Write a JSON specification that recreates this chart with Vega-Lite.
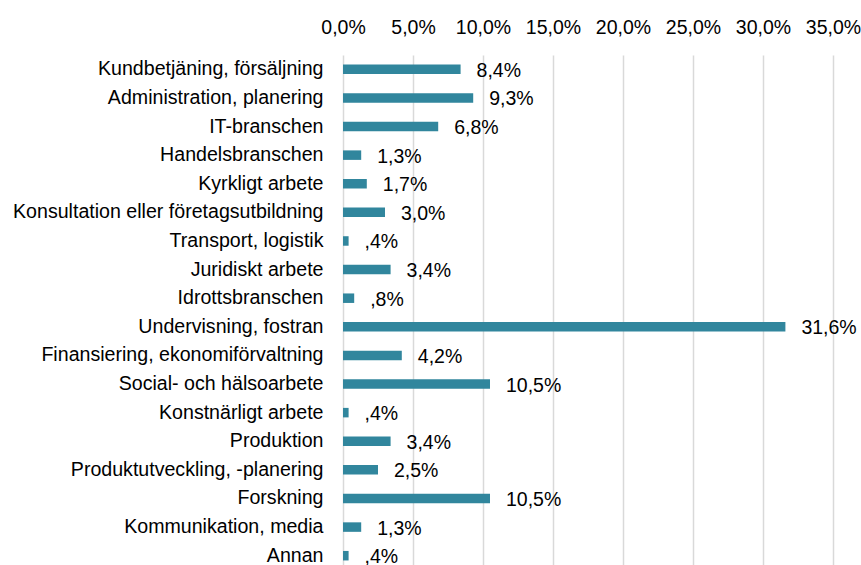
{
  "$schema": "https://vega.github.io/schema/vega-lite/v6.json",
  "autosize": {"type": "none"},
  "padding": {"left": 343, "top": 55, "right": 28, "bottom": 0},
  "width": 490,
  "height": 515,
  "background": "white",
  "config": {"view": {"stroke": null}, "font": "Liberation Sans"},
  "data": {"values": [
    {"kategori": "Kundbetjäning, försäljning", "andel": 8.4, "etikett": "8,4%"},
    {"kategori": "Administration, planering", "andel": 9.3, "etikett": "9,3%"},
    {"kategori": "IT-branschen", "andel": 6.8, "etikett": "6,8%"},
    {"kategori": "Handelsbranschen", "andel": 1.3, "etikett": "1,3%"},
    {"kategori": "Kyrkligt arbete", "andel": 1.7, "etikett": "1,7%"},
    {"kategori": "Konsultation eller företagsutbildning", "andel": 3.0, "etikett": "3,0%"},
    {"kategori": "Transport, logistik", "andel": 0.4, "etikett": ",4%"},
    {"kategori": "Juridiskt arbete", "andel": 3.4, "etikett": "3,4%"},
    {"kategori": "Idrottsbranschen", "andel": 0.8, "etikett": ",8%"},
    {"kategori": "Undervisning, fostran", "andel": 31.6, "etikett": "31,6%"},
    {"kategori": "Finansiering, ekonomiförvaltning", "andel": 4.2, "etikett": "4,2%"},
    {"kategori": "Social- och hälsoarbete", "andel": 10.5, "etikett": "10,5%"},
    {"kategori": "Konstnärligt arbete", "andel": 0.4, "etikett": ",4%"},
    {"kategori": "Produktion", "andel": 3.4, "etikett": "3,4%"},
    {"kategori": "Produktutveckling, -planering", "andel": 2.5, "etikett": "2,5%"},
    {"kategori": "Forskning", "andel": 10.5, "etikett": "10,5%"},
    {"kategori": "Kommunikation, media", "andel": 1.3, "etikett": "1,3%"},
    {"kategori": "Annan", "andel": 0.4, "etikett": ",4%"}
  ]},
  "encoding": {
    "y": {"field": "kategori", "type": "nominal", "sort": null,
      "scale": {"paddingInner": 0, "paddingOuter": 0},
      "axis": {"title": null, "domain": false, "ticks": false, "labelPadding": 20,
        "labelFontSize": 19.6, "labelColor": "#000000", "labelLimit": 400}},
    "x": {"field": "andel", "type": "quantitative",
      "scale": {"domain": [0, 35], "nice": false},
      "axis": {"orient": "top", "title": null, "domain": false, "ticks": false,
        "values": [0, 5, 10, 15, 20, 25, 30, 35],
        "labelExpr": "replace(format(datum.value, '.1f'), '.', ',') + '%'",
        "labelPadding": 18, "labelFontSize": 19.5, "labelColor": "#000000",
        "labelFlush": false, "labelOverlap": false,
        "grid": true, "gridColor": "#d9d9d9", "gridWidth": 1.5}}
  },
  "layer": [
    {"mark": {"type": "bar", "height": 9.5, "color": "#31869D"}},
    {"mark": {"type": "text", "align": "left", "baseline": "middle", "dx": 16, "dy": 1.5, "fontSize": 19.5, "color": "#000000"},
      "encoding": {"text": {"field": "etikett"}}}
  ]
}
